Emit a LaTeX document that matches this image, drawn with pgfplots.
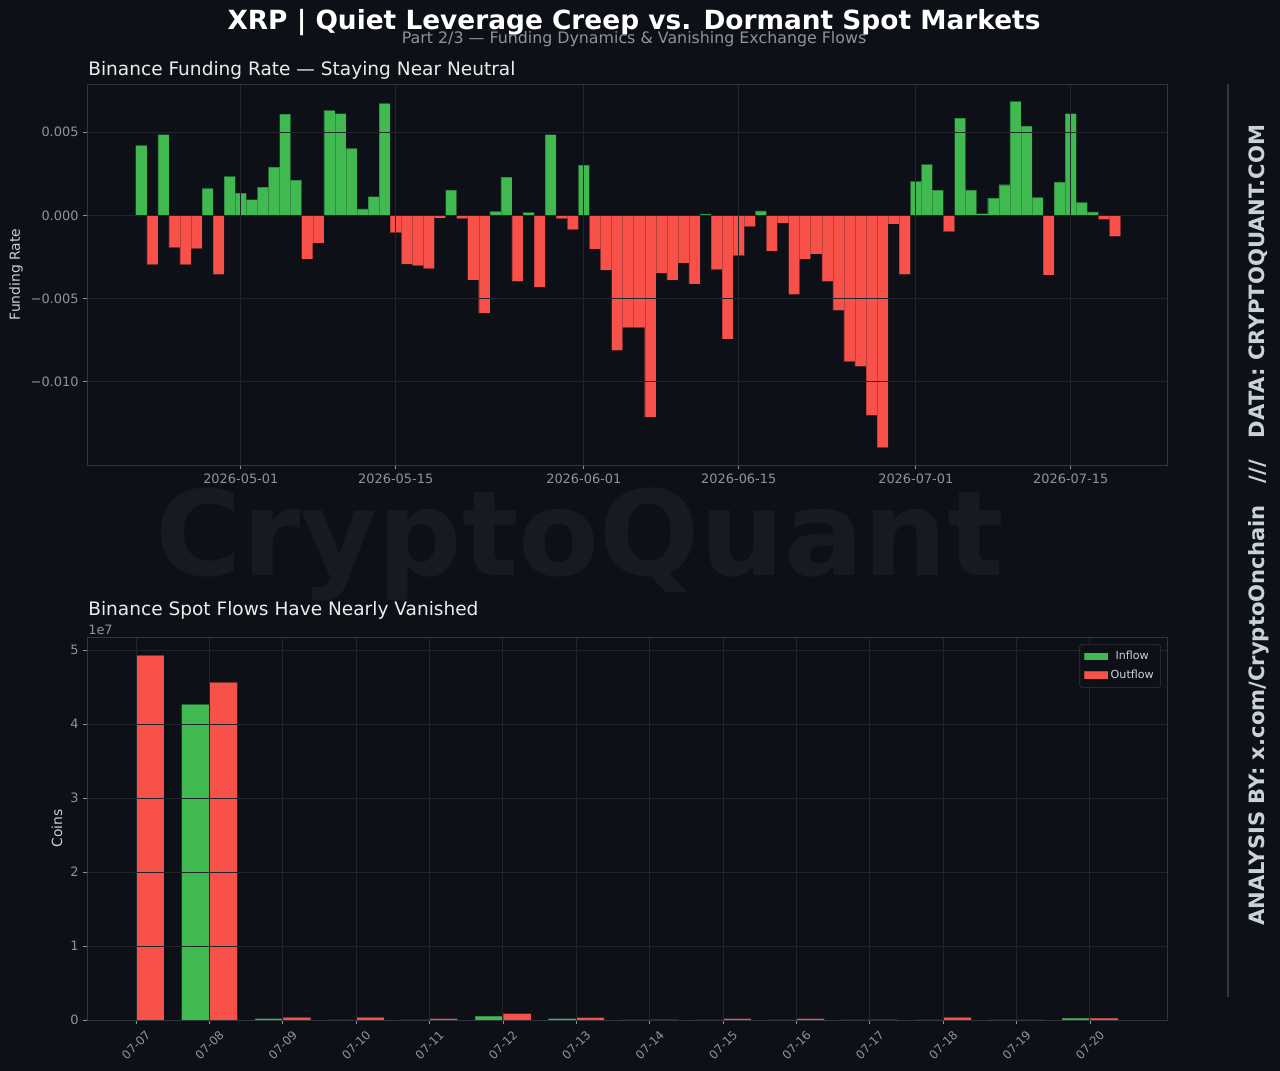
\documentclass[border=0pt]{standalone}
\usepackage{fontspec}
\setmainfont{DejaVu Sans}
\usepackage{pgfplots}
\pgfplotsset{compat=1.18}
\usepackage{pgfplotstable}

\definecolor{bg}{HTML}{0D1117}
\definecolor{upc}{HTML}{3FB950}
\definecolor{downc}{HTML}{F85149}
\definecolor{gridc}{HTML}{21262D}
\definecolor{spine}{HTML}{30363D}
\definecolor{tickc}{HTML}{8B949E}
\definecolor{labc}{HTML}{C9D1D9}
\definecolor{wmark}{HTML}{161B22}

% daily funding rate, day 0 = 2026-05-01
\pgfplotstableread{
day rate
-9 0.00420
-8 -0.00296
-7 0.00486
-6 -0.00194
-5 -0.00296
-4 -0.00200
-3 0.00162
-2 -0.00356
-1 0.00234
0 0.00134
1 0.00094
2 0.00170
3 0.00290
4 0.00608
5 0.00212
6 -0.00264
7 -0.00168
8 0.00632
9 0.00612
10 0.00402
11 0.00038
12 0.00112
13 0.00674
14 -0.00104
15 -0.00294
16 -0.00302
17 -0.00320
18 -0.00016
19 0.00152
20 -0.00020
21 -0.00388
22 -0.00588
23 0.00024
24 0.00230
25 -0.00398
26 0.00018
27 -0.00432
28 0.00486
29 -0.00020
30 -0.00086
31 0.00302
32 -0.00202
33 -0.00330
34 -0.00812
35 -0.00676
36 -0.00676
37 -0.01214
38 -0.00348
39 -0.00390
40 -0.00288
41 -0.00412
42 0.00008
43 -0.00326
44 -0.00744
45 -0.00242
46 -0.00068
47 0.00026
48 -0.00214
49 -0.00046
50 -0.00476
51 -0.00264
52 -0.00232
53 -0.00398
54 -0.00572
55 -0.00880
56 -0.00908
57 -0.01204
58 -0.01398
59 -0.00052
60 -0.00356
61 0.00204
62 0.00306
63 0.00152
64 -0.00098
65 0.00584
66 0.00152
67 0.00010
68 0.00104
69 0.00184
70 0.00686
71 0.00537
72 0.00108
73 -0.00358
74 0.00200
75 0.00612
76 0.00078
77 0.00020
78 -0.00024
79 -0.00126
}\funding

% spot flows, idx 0 = 07-07
\pgfplotstableread{
idx inflow outflow
0 nan 49300000
1 42700000 45650000
2 180000 360000
3 30000 360000
4 30000 180000
5 540000 860000
6 180000 320000
7 30000 50000
8 30000 180000
9 30000 180000
10 20000 50000
11 30000 360000
12 30000 30000
13 270000 270000
}\flows

\pgfplotsset{
  darkax/.style={
    scale only axis,
    anchor=south west,
    width=777.6pt,
    axis background/.style={fill=bg},
    axis line style={spine, line width=0.7pt},
    grid=major,
    major grid style={gridc, line width=0.7pt},
    tick align=outside,
    major tick length=2.6pt,
    tick style={tickc, line width=0.6pt},
    tick pos=left,
    ticklabel style={font=\fontsize{9.3}{11}\selectfont, color=tickc},
    scaled ticks=false,
    axis on top,
    every axis y label/.style={rotate=90, anchor=center,
      font=\fontsize{10}{12}\selectfont, color=labc},
  },
  barup/.style={fill=upc, draw=bg, draw opacity=0.25, line width=0.3pt},
  bardown/.style={fill=downc, draw=bg, draw opacity=0.25, line width=0.3pt},
}

\begin{document}
\begin{tikzpicture}
\fill[bg] (0,0) rectangle (921.6pt,771.12pt);
\useasboundingbox (0,0) rectangle (921.6pt,771.12pt);

% watermark
\node[anchor=base, text=wmark, font=\fontsize{85}{90}\selectfont\bfseries, inner sep=0]
  at (417.6pt,357.1pt) {CryptoQuant};

% titles
\node[text=white, font=\fontsize{19}{23}\selectfont\bfseries]
  at (456.5pt,754.6pt) {XRP | Quiet Leverage Creep vs. Dormant Spot Markets};
\node[text=tickc, font=\fontsize{11.4}{13}\selectfont]
  at (456.5pt,743pt) {Part 2/3 — Funding Dynamics \& Vanishing Exchange Flows};
\node[anchor=base west, inner sep=0, text=white!92!black, font=\fontsize{13.35}{15}\selectfont]
  at (63.4pt,716.4pt) {Binance Funding Rate — Staying Near Neutral};
\node[anchor=base west, inner sep=0, text=white!92!black, font=\fontsize{13.35}{15}\selectfont]
  at (63.4pt,327.6pt) {Binance Spot Flows Have Nearly Vanished};
\node[anchor=base west, inner sep=0, text=tickc, font=\fontsize{9.3}{11}\selectfont]
  at (63.4pt,314.6pt) {1e7};

% side credit
\draw[spine, line width=1pt] (884.2pt,53.3pt) -- (884.2pt,710.6pt);
\node[rotate=90, text=labc, font=\fontsize{15.2}{18}\selectfont\bfseries]
  at (906.5pt,393pt) {ANALYSIS BY: x.com/CryptoOnchain \ \ /// \ \ DATA: CRYPTOQUANT.COM};

% funding rate
\begin{axis}[darkax,
  at={(62.64pt,436.32pt)},
  height=274.32pt,
  xmin=-13.9, xmax=83.7,
  ymin=-0.01502, ymax=0.0079,
  ybar, bar width=1, bar shift=0,
  xtick={0,14,31,45,61,75},
  xticklabels={2026-05-01,2026-05-15,2026-06-01,2026-06-15,2026-07-01,2026-07-15},
  ytick={-0.01,-0.005,0,0.005},
  yticklabels={−0.010,−0.005,0.000,0.005},
  ylabel={Funding Rate},
  every axis y label/.append style={at={(axis description cs:-0.0657,0.5)}},
]
\addplot[barup, restrict y to domain=0:1] table[x=day, y=rate] {\funding};
\addplot[bardown, restrict y to domain=-1:0] table[x=day, y=rate] {\funding};
\draw[tickc, line width=0.9pt] (axis cs:-13.9,0) -- (axis cs:83.7,0);
\end{axis}

% spot flows
\begin{axis}[darkax,
  at={(62.64pt,36.72pt)},
  height=275.76pt,
  xmin=-0.669, xmax=14.05,
  ymin=0, ymax=5.18e7,
  ybar, bar width=0.38,
  xtick={0,...,13},
  xticklabels={07-07,07-08,07-09,07-10,07-11,07-12,07-13,07-14,07-15,07-16,07-17,07-18,07-19,07-20},
  xticklabel style={yshift=-15.5pt, rotate=45, anchor=center, font=\fontsize{8.5}{10}\selectfont},
  ytick={0,1e7,2e7,3e7,4e7,5e7},
  yticklabels={0,1,2,3,4,5},
  ylabel={Coins},
  every axis y label/.append style={at={(axis description cs:-0.0278,0.5)}},
  legend style={at={(axis description cs:0.9944,0.9817)}, anchor=north east,
    fill=bg, draw=spine, rounded corners=2pt, text=labc,
    font=\fontsize{8}{10}\selectfont, row sep=2pt, inner sep=3pt},
  legend image code/.code={\fill[#1, sharp corners] (0pt,-2.8pt) rectangle (17pt,2.8pt);},
]
\addplot[barup, bar shift=-0.19] table[x=idx, y=inflow] {\flows};
\addplot[bardown, bar shift=0.19] table[x=idx, y=outflow] {\flows};
\legend{Inflow,Outflow}
\end{axis}
\end{tikzpicture}
\end{document}
